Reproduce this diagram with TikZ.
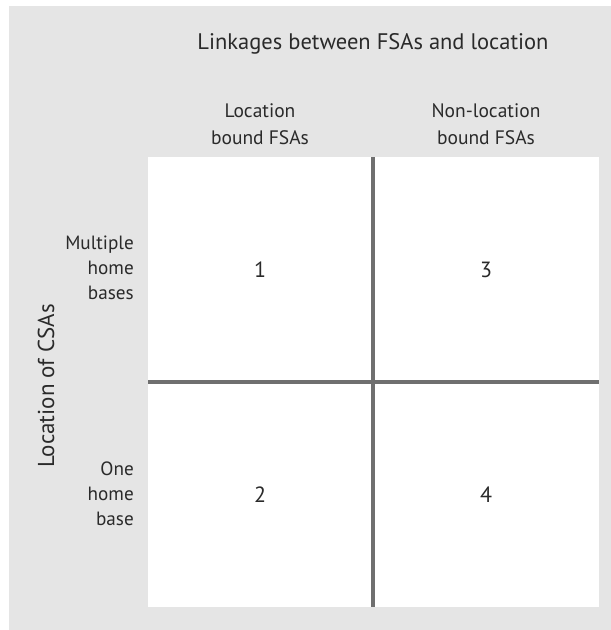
\documentclass[tikz,border=0pt]{standalone}
\usepackage{fontspec}
\setmainfont{PT Sans}
\definecolor{panelgray}{HTML}{E5E5E5}
\definecolor{rulegray}{HTML}{6F6F6F}
\definecolor{inkgray}{HTML}{2A2A2A}
\begin{document}
\begin{tikzpicture}[x=1pt,y=-1pt,
  lbl/.style={text=inkgray,inner sep=0pt},
  rowlbl/.style={lbl,font=\fontsize{19.2}{25}\selectfont,align=right,anchor=east},
  collbl/.style={lbl,font=\fontsize{19.5}{27}\selectfont,align=center},
  cellnum/.style={text=inkgray,font=\fontsize{22}{25}\selectfont,inner sep=0pt},
  divider/.style={draw=rulegray,line width=4pt}]
  % page and panel
  \useasboundingbox (0,0) rectangle (611,630);
  \fill[white] (0,0) rectangle (611,630);
  \fill[panelgray] (9,6) rectangle (611,630);
  % matrix area
  \coordinate (tl) at (148,157);
  \coordinate (br) at (599,607);
  \fill[white] (tl) rectangle (br);
  \coordinate (vtop) at (373,157);
  \coordinate (vbot) at (373,607);
  \coordinate (hleft) at (148,382);
  \coordinate (hright) at (599,382);
  \draw[divider] (vtop) -- (vbot);
  \draw[divider] (hleft) -- (hright);
  % headings
  \node[lbl,font=\fontsize{22.5}{25}\selectfont] (title) at (373,44) {Linkages between FSAs and location};
  \node[collbl] (colA) at (260,124) {Location\\bound FSAs};
  \node[collbl] (colB) at (486,124) {Non-location\\bound FSAs};
  \node[rowlbl] (rowA) at (134,268) {Multiple\\home\\bases};
  \node[rowlbl] (rowB) at (134,494) {One\\home\\base};
  \node[lbl,font=\fontsize{23}{25}\selectfont,rotate=90] (axis) at (46,386) {Location of CSAs};
  % cell numbers
  \node[cellnum] (c1) at (260,270) {1};
  \node[cellnum] (c3) at (486,270) {3};
  \node[cellnum] (c2) at (260,495) {2};
  \node[cellnum] (c4) at (486,495) {4};
\end{tikzpicture}
\end{document}
